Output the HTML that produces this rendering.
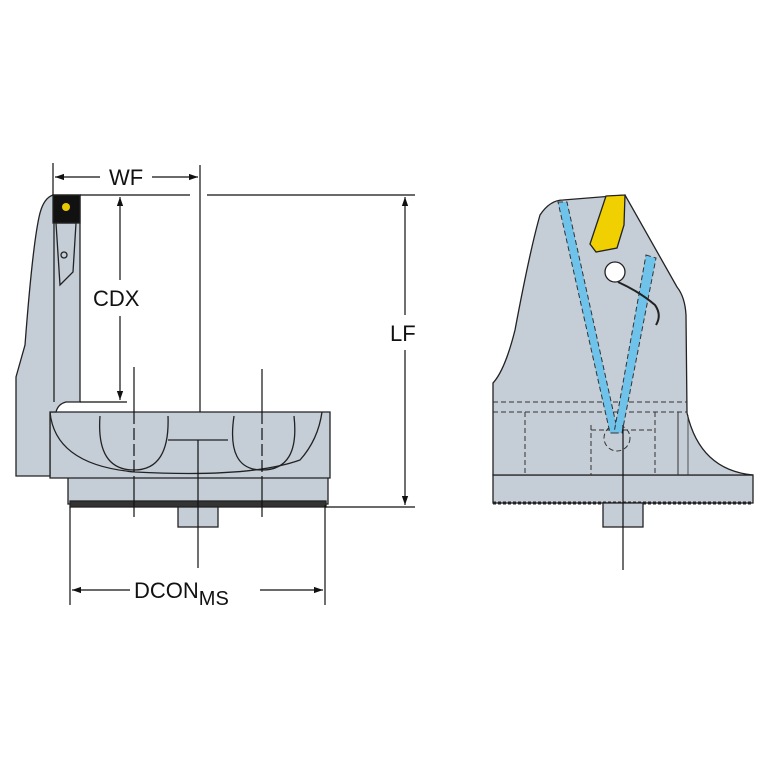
<!DOCTYPE html>
<html><head><meta charset="utf-8"><style>
html,body{margin:0;padding:0;background:#fff}
svg{display:block}
text{font-family:"Liberation Sans",sans-serif;fill:#111}
</style></head><body>
<svg width="767" height="767" viewBox="0 0 767 767" xmlns="http://www.w3.org/2000/svg">
<defs>
<marker id="a" viewBox="0 0 10 10" refX="10" refY="5" markerWidth="9" markerHeight="9" orient="auto-start-reverse" markerUnits="userSpaceOnUse"><path d="M0,1.5 L10,5 L0,8.5 z" fill="#111"/></marker>
</defs>
<g stroke="#222" stroke-width="1.3" fill="#c5cdd7">
<rect x="68" y="476" width="260" height="28"/>
<rect x="70" y="501" width="256" height="6" fill="#333"/>
<rect x="178" y="507" width="40" height="20"/>
<path d="M50,412 H330 V478 H50 Z"/>
<path d="M50,412 Q55,465 135,472 Q250,478 300,460 Q318,440 322,412" fill="none"/>
<path d="M100,416 Q96,470 134,470 Q170,470 168,416" fill="none"/>
<path d="M234,416 Q226,470 262,470 Q300,470 294,416" fill="none"/>
<line x1="168" y1="440" x2="228" y2="440"/>
<path d="M53,195 H80 V402 H66 Q58,404 56,412 L50,412 V476 H16 V377 L25,345 Q33,240 40,213 Q44,198 53,195 Z"/>
<path d="M54,196 V402" fill="none"/>
<rect x="53" y="195" width="27" height="28" fill="#111"/>
<circle cx="66" cy="207" r="4" fill="#e8c800" stroke="none"/>
<path d="M56,223 L76,223 L73,272 L60,285 Z" fill="none"/>
<circle cx="64" cy="255" r="3" fill="none"/>
</g>
<g stroke="#111" stroke-width="1.2" fill="none">
<line x1="134" y1="367" x2="134" y2="412"/>
<line x1="134" y1="412" x2="134" y2="478" stroke-dasharray="12,4"/>
<line x1="134" y1="478" x2="134" y2="517"/>
<line x1="262" y1="369" x2="262" y2="412"/>
<line x1="262" y1="412" x2="262" y2="478" stroke-dasharray="12,4"/>
<line x1="262" y1="478" x2="262" y2="517"/>
<line x1="198" y1="440" x2="198" y2="568"/>
<line x1="200" y1="165" x2="200" y2="412"/>
<line x1="53" y1="163" x2="53" y2="195"/>
<line x1="55" y1="177" x2="100" y2="177" marker-start="url(#a)"/>
<line x1="152" y1="177" x2="198" y2="177" marker-end="url(#a)"/>
<line x1="80" y1="195" x2="190" y2="195"/>
<line x1="207" y1="195" x2="415" y2="195"/>
<line x1="120" y1="197" x2="120" y2="280" marker-start="url(#a)"/>
<line x1="120" y1="316" x2="120" y2="400" marker-end="url(#a)"/>
<line x1="80" y1="402" x2="127" y2="402"/>
<line x1="405" y1="197" x2="405" y2="315" marker-start="url(#a)"/>
<line x1="405" y1="350" x2="405" y2="505" marker-end="url(#a)"/>
<line x1="325" y1="507" x2="415" y2="507"/>
<line x1="70" y1="507" x2="70" y2="605"/>
<line x1="325" y1="505" x2="325" y2="605"/>
<line x1="72" y1="590" x2="130" y2="590" marker-start="url(#a)"/>
<line x1="260" y1="590" x2="323" y2="590" marker-end="url(#a)"/>
</g>
<text x="109" y="185" font-size="22">WF</text>
<text x="93" y="306" font-size="22">CDX</text>
<text x="390" y="341" font-size="22">LF</text>
<text x="134" y="598" font-size="22">DCON<tspan font-size="20" dy="7">MS</tspan></text>

<g stroke="#222" stroke-width="1.3" fill="#c5cdd7">
<rect x="493" y="475" width="260" height="28"/>
<path d="M493,503 H753" stroke-dasharray="3,2" stroke-width="3"/>
<rect x="603" y="503" width="40" height="24"/>
<path d="M493,475 V383 Q505,370 515,330 Q530,250 540,215 Q550,200 563,200 L625,195 L677,287 Q685,297 686,315 L687,413 Q700,470 753,475 Z"/>
</g>
<g stroke="#333" stroke-width="1" fill="none" stroke-dasharray="5,3">
<line x1="493" y1="402" x2="687" y2="402"/>
<line x1="493" y1="412" x2="687" y2="412"/>
<line x1="525" y1="412" x2="525" y2="475"/>
<line x1="591" y1="425" x2="591" y2="475"/>
<line x1="655" y1="412" x2="655" y2="475"/>
<line x1="591" y1="430" x2="655" y2="430"/>
<circle cx="617" cy="438" r="13"/>
</g>
<line x1="678" y1="412" x2="678" y2="475" stroke="#333"/>
<line x1="688" y1="415" x2="688" y2="475" stroke="#333" stroke-width="0.8"/>
<path d="M558,202 L567,202 L618,433 L610,433 Z" fill="#6fc3ea" stroke="#333" stroke-width="1" stroke-dasharray="5,3"/>
<path d="M646,255 L656,258 L622,433 L614,433 Z" fill="#6fc3ea" stroke="#333" stroke-width="1" stroke-dasharray="5,3"/>
<path d="M606,196 L625,195 L624,225 L617,248 L596,252 L590,244 Z" fill="#f0d000" stroke="#222" stroke-width="1.3"/>
<circle cx="615" cy="272" r="10" fill="#fff" stroke="#222" stroke-width="1.3"/>
<path d="M618,282 Q640,292 655,305 Q662,315 656,325" fill="none" stroke="#222" stroke-width="2"/>
<line x1="623" y1="425" x2="623" y2="570" stroke="#111" stroke-width="1.2"/>
</svg>
</body></html>
